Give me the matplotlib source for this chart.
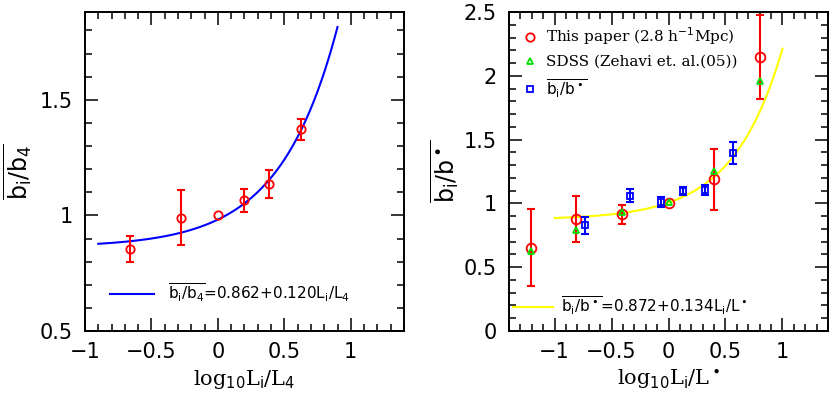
import numpy as np
import matplotlib
matplotlib.use("Agg")
import matplotlib.pyplot as plt
from matplotlib.ticker import MultipleLocator
from matplotlib.lines import Line2D

# Left panel: relative bias b_i/b_4
left_x = [-0.665, -0.276, 0.0, 0.195, 0.388, 0.626]
left_y = [0.856, 0.99, 1.0, 1.065, 1.137, 1.372]
left_err = [0.057, 0.12, 0.0, 0.05, 0.06, 0.047]
left_fit = (0.862, 0.120)
left_fit_range = (-0.9, 0.9)

# Right panel: relative bias b_i/b*
paper_x = [-1.21, -0.81, -0.41, 0.0, 0.40, 0.80]
paper_y = [0.653, 0.874, 0.913, 1.0, 1.19, 2.145]
paper_err = [0.30, 0.18, 0.077, 0.0, 0.24, 0.33]
sdss_x = [-1.21, -0.81, -0.41, 0.0, 0.40, 0.80]
sdss_y = [0.624, 0.79, 0.93, 1.008, 1.25, 1.96]
mean_x = [-0.735, -0.335, -0.065, 0.126, 0.324, 0.562]
mean_y = [0.829, 1.06, 1.008, 1.097, 1.105, 1.395]
mean_err = [0.066, 0.05, 0.04, 0.03, 0.04, 0.085]
right_fit = (0.872, 0.134)
right_fit_range = (-1.0, 1.0)

plt.rcParams["font.family"] = "DejaVu Sans"
plt.rcParams["mathtext.fontset"] = "dejavusans"

fig = plt.figure(figsize=(8.3, 3.93), dpi=100)
ax1 = fig.add_axes([0.1024, 0.1578, 0.3843, 0.8117])
ax2 = fig.add_axes([0.6133, 0.1578, 0.3843, 0.8117])


def style_axes(ax):
    for s in ax.spines.values():
        s.set_linewidth(1.4)
    ax.xaxis.set_major_locator(MultipleLocator(0.5))
    ax.xaxis.set_minor_locator(MultipleLocator(0.1))
    ax.yaxis.set_major_locator(MultipleLocator(0.5))
    ax.yaxis.set_minor_locator(MultipleLocator(0.1))
    ax.tick_params(which="both", direction="in", top=True, right=True, width=1.1)
    ax.tick_params(which="major", length=9.5, labelsize=15)
    ax.tick_params(which="minor", length=5)
    ax.tick_params(axis="y", pad=9)
    ax.tick_params(axis="x", pad=8)
    ax.xaxis.set_major_formatter(lambda v, p: f"{v:g}".replace("-", "\u2212"))
    ax.yaxis.set_major_formatter(lambda v, p: f"{v:g}")


def plot_points(ax, x, y, err, color, marker, ms):
    x, y, err = np.array(x), np.array(y), np.array(err)
    m = err > 0
    ax.errorbar(x[m], y[m], yerr=err[m], fmt="none", ecolor=color,
                elinewidth=1.5, capsize=3, capthick=1.5)
    ax.plot(x, y, linestyle="none", marker=marker, ms=ms, mfc="none",
            mec=color, mew=1.3)


# ---- left panel
style_axes(ax1)
xs = np.linspace(*left_fit_range, 200)
ax1.plot(xs, left_fit[0] + left_fit[1] * 10 ** xs, color="blue", lw=1.5,
         label=r"$\overline{\mathrm{b_i/b_4}}$=0.862+0.120L$_\mathrm{i}$/L$_4$")
plot_points(ax1, left_x, left_y, left_err, "red", "o", 6)
ax1.set_xlim(-1.0, 1.4)
ax1.set_ylim(0.5, 1.88)
ax1.set_xlabel(r"log$_{10}$L$_\mathrm{i}$/L$_4$", fontsize=15,
               fontfamily="DejaVu Serif", labelpad=4)
ax1.set_ylabel(r"$\overline{\mathrm{b_i/b_4}}$", fontsize=17, labelpad=4)
ax1.legend(loc="lower left", bbox_to_anchor=(0.035, 0.04), frameon=False,
           fontsize=11, handlelength=2.9, handletextpad=0.9)

# ---- right panel
style_axes(ax2)
xs = np.linspace(*right_fit_range, 200)
fit_line, = ax2.plot(xs, right_fit[0] + right_fit[1] * 10 ** xs,
                     color="yellow", lw=1.5)
plot_points(ax2, paper_x, paper_y, paper_err, "red", "o", 7)
ax2.plot(sdss_x, sdss_y, linestyle="none", marker="^", ms=5, mfc="none",
         mec="#00dd00", mew=1.3)
plot_points(ax2, mean_x, mean_y, mean_err, "blue", "s", 5)
ax2.set_xlim(-1.4, 1.4)
ax2.set_ylim(0.0, 2.5)
ax2.set_xlabel(r"log$_{10}$L$_\mathrm{i}$/L$^\bullet$", fontsize=15,
               fontfamily="DejaVu Serif", labelpad=4)
ax2.set_ylabel(r"$\overline{\mathrm{b_i/b^\bullet}}$", fontsize=17, labelpad=2)

handles = [
    Line2D([], [], ls="none", marker="o", ms=6, mfc="none", mec="red", mew=1.3),
    Line2D([], [], ls="none", marker="^", ms=5, mfc="none", mec="#00dd00", mew=1.3),
    Line2D([], [], ls="none", marker="s", ms=4.5, mfc="none", mec="blue", mew=1.3),
]
labels = [r"This paper (2.8 h$^{-1}$Mpc)", "SDSS (Zehavi et. al.(05))",
          r"$\overline{\mathrm{b_i/b^\bullet}}$"]
leg1 = ax2.legend(handles, labels, loc="upper left", bbox_to_anchor=(0.0, 1.0),
                  frameon=False, prop={"family": "DejaVu Serif", "size": 11},
                  handlelength=1.0, handletextpad=0.5, labelspacing=0.5)
ax2.add_artist(leg1)
ax2.legend([fit_line], [r"$\overline{\mathrm{b_i/b^\bullet}}$=0.872+0.134L$_\mathrm{i}$/L$^\bullet$"],
           loc="lower left", bbox_to_anchor=(-0.03, 0.0), frameon=False,
           fontsize=11, handlelength=2.6, handletextpad=0.5)

fig.savefig("out.png", dpi=100)
